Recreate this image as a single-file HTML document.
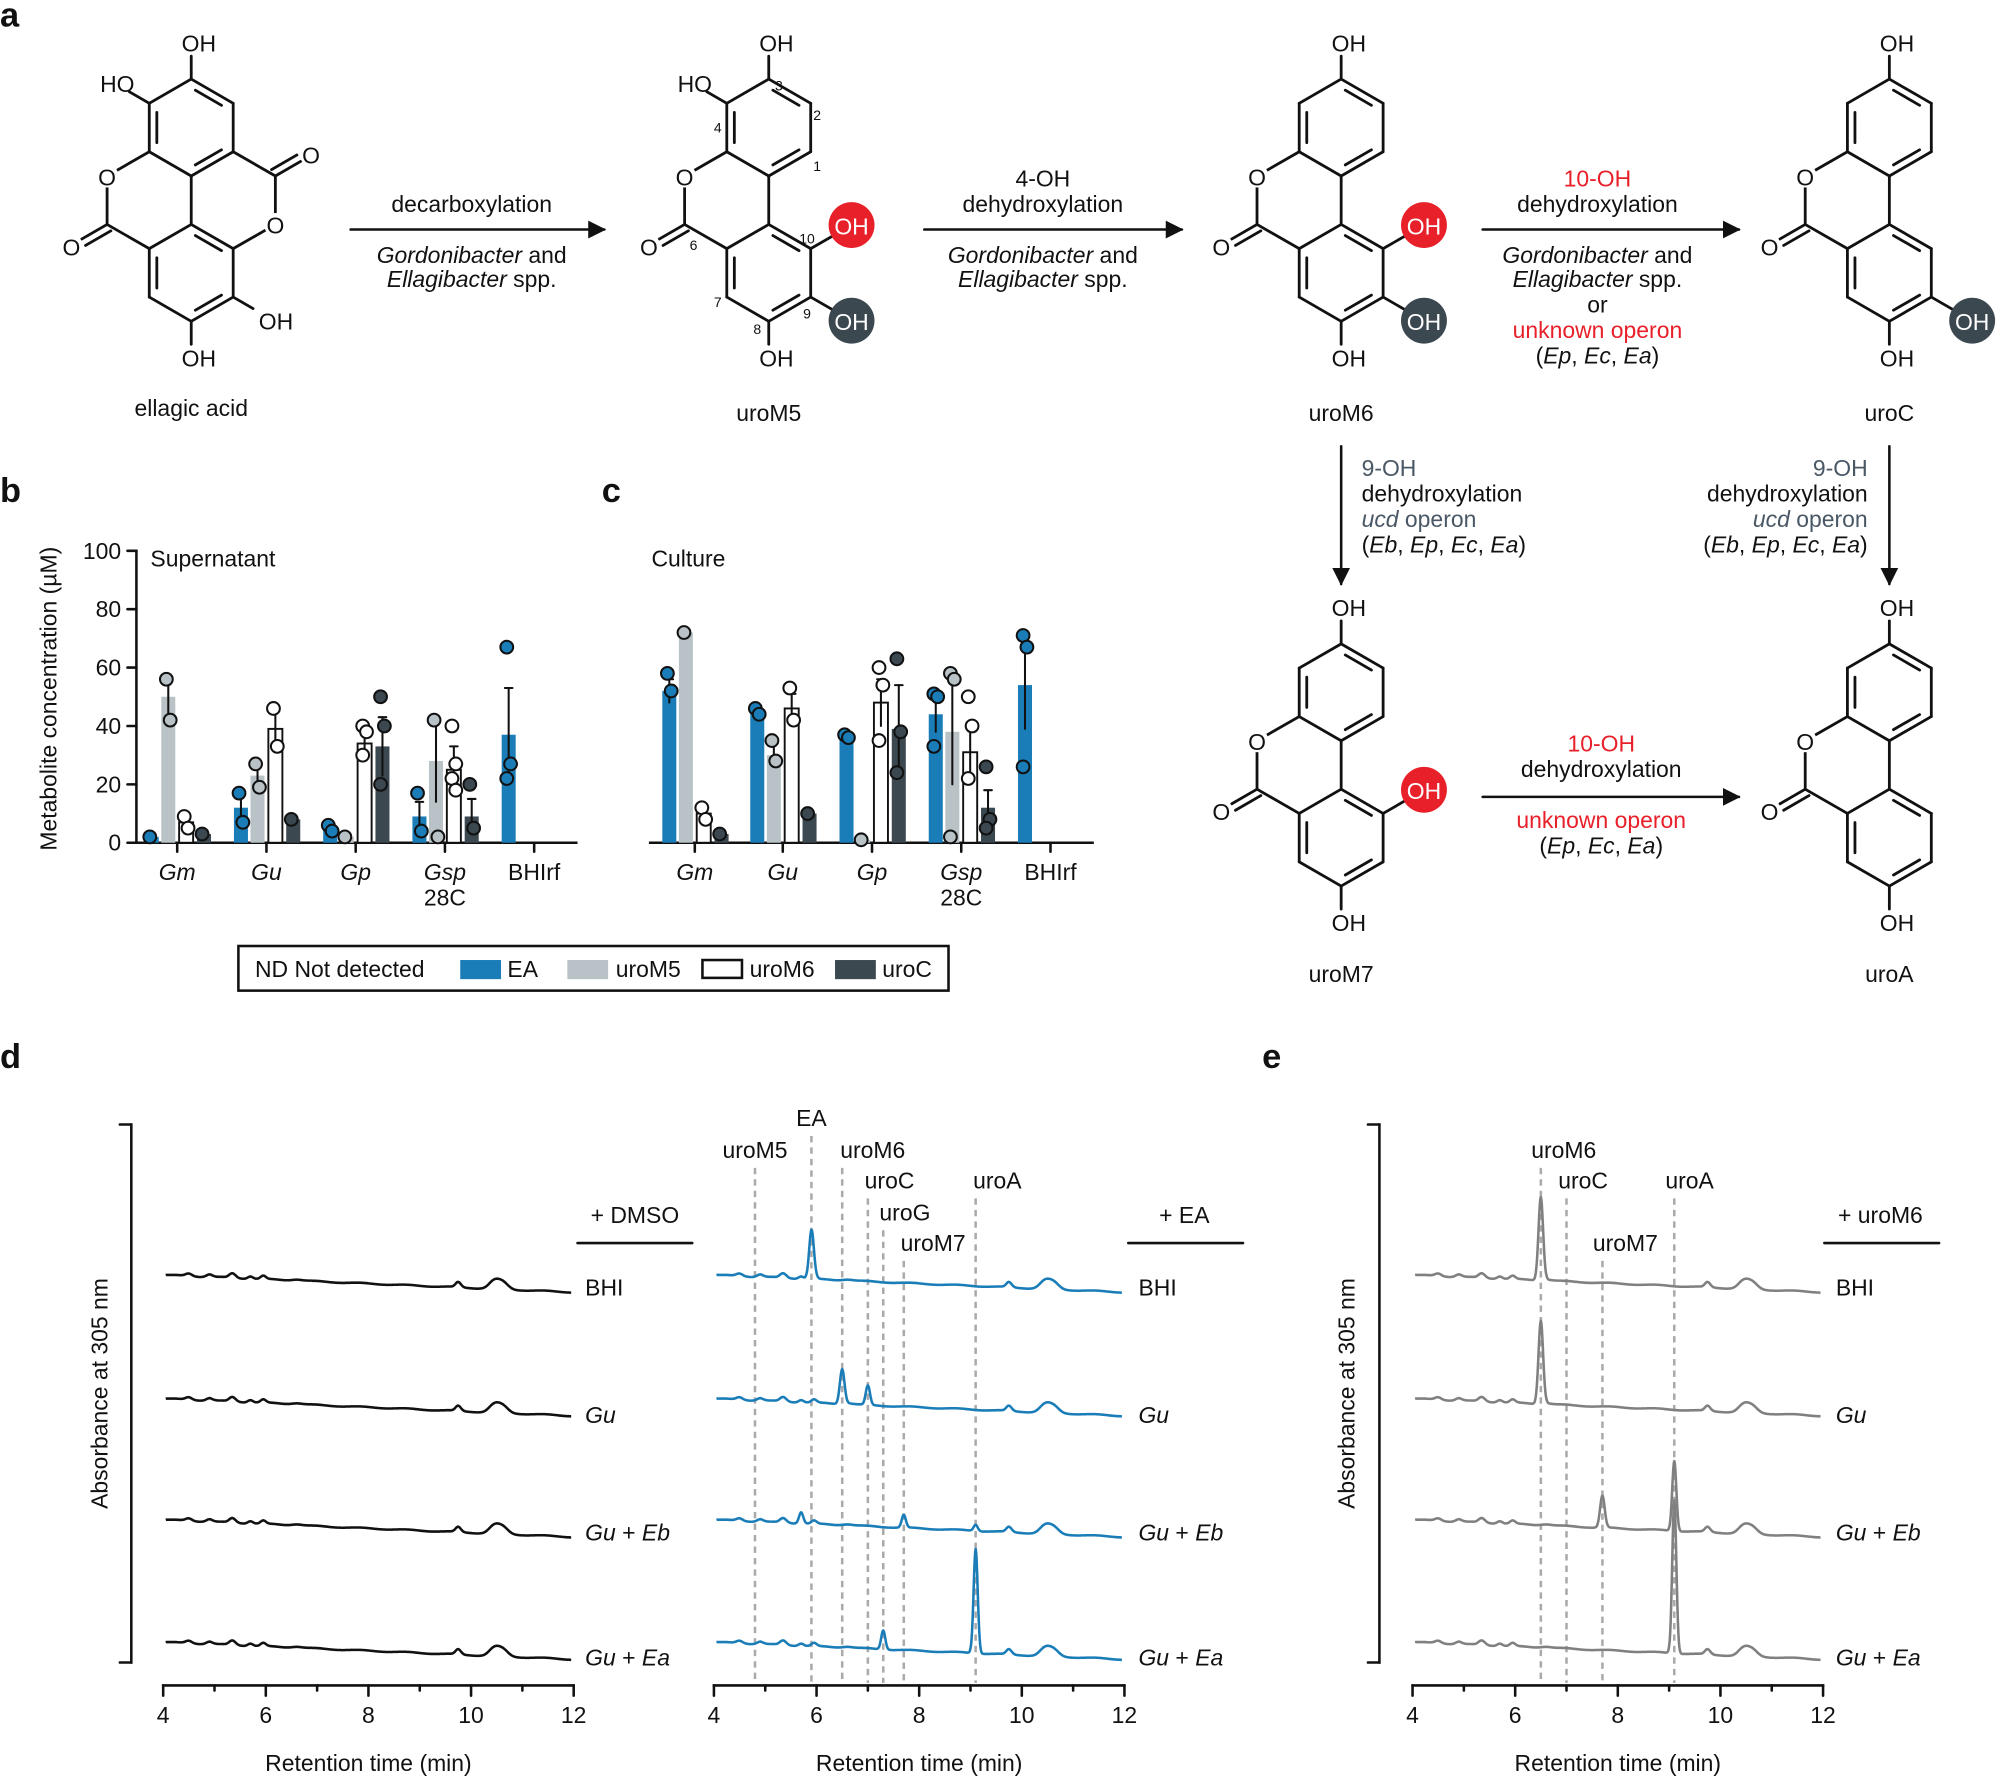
<!DOCTYPE html>
<html><head><meta charset="utf-8">
<style>
html,body{margin:0;padding:0;background:#fff;}
svg{display:block;font-family:"Liberation Sans",Arial,sans-serif;}
</style></head>
<body>
<svg id="s" width="1999" height="1776" viewBox="0 0 1568 1393" xmlns="http://www.w3.org/2000/svg">
<defs>
<marker id="ah" viewBox="0 0 10 10" refX="9" refY="5" markerWidth="7" markerHeight="7" orient="auto"><path d="M0,0 L10,5 L0,10 z" fill="#111"/></marker>
</defs>
<g id="g"></g>
</svg>
<script>
const NS="http://www.w3.org/2000/svg";
const G=document.getElementById('g');
function el(tag,attrs,text){const e=document.createElementNS(NS,tag);for(const k in attrs)e.setAttribute(k,attrs[k]);if(text!==undefined)e.textContent=text;G.appendChild(e);return e;}
function line(x1,y1,x2,y2,w,c,extra){return el('line',Object.assign({x1,y1,x2,y2,stroke:c||'#111','stroke-width':w||2,'stroke-linecap':'round'},extra||{}));}
function txt(x,y,s,o){o=o||{};const a={x,y,'text-anchor':o.anchor||'middle','dominant-baseline':'central'};
 a.style='font-size:'+(o.size||18)+'px;fill:'+(o.fill||'#111')+';'+(o.italic?'font-style:italic;':'')+(o.bold?'font-weight:bold;':'');
 if(o.tr)a.transform=o.tr;
 const e=el('text',a); if(Array.isArray(s)){s.forEach(p=>{const ts=document.createElementNS(NS,'tspan');let st='';if(p.i)st+='font-style:italic;';if(p.f)st+='fill:'+p.f+';';if(st)ts.setAttribute('style',st);ts.textContent=p.t;e.appendChild(ts);});}else e.textContent=s; return e;}
function atomO(x,y){el('circle',{cx:x,cy:y,r:9,fill:'#fff'});txt(x,y+1,'O');}
const R=38;
function hexv(cx,cy){const v=[];for(let i=0;i<6;i++){const a=(-90+60*i)*Math.PI/180;v.push([cx+R*Math.cos(a),cy+R*Math.sin(a)]);}return v;}
function ring(cx,cy){const v=hexv(cx,cy);for(let i=0;i<6;i++){const p=v[i],q=v[(i+1)%6];line(p[0],p[1],q[0],q[1],2.2);}
 [[0,1],[2,3],[4,5]].forEach(([i,j])=>{const p=v[i],q=v[j];const f=0.82;
  const pi=[cx+(p[0]-cx)*f,cy+(p[1]-cy)*f],qi=[cx+(q[0]-cx)*f,cy+(q[1]-cy)*f];
  const sx=pi[0]+(qi[0]-pi[0])*0.12,sy=pi[1]+(qi[1]-pi[1])*0.12,ex=pi[0]+(qi[0]-pi[0])*0.88,ey=pi[1]+(qi[1]-pi[1])*0.88;line(sx,sy,ex,ey,2.2);});
 return v;}
function sub(cx,cy,v,i,kind){const a=(-90+60*i)*Math.PI/180;const d=[Math.cos(a),Math.sin(a)];const p=v[i];
 if(kind==='red'||kind==='dark'){const c=[p[0]+d[0]*37,p[1]+d[1]*37];line(p[0],p[1],c[0]-d[0]*17,c[1]-d[1]*17,2.2);
  el('circle',{cx:c[0],cy:c[1],r:18,fill:kind==='red'?'#e8202a':'#3b4850'});txt(c[0],c[1]+1,'OH',{fill:'#fff'});}
 else{const e=[p[0]+d[0]*18,p[1]+d[1]*18];line(p[0],p[1],e[0],e[1],2.2);
  if(kind==='HO')txt(e[0]+4,e[1]-6,'HO',{anchor:'end'});
  else if(i===0)txt(p[0]+6,e[1]-10,'OH');
  else if(i===3)txt(p[0]+6,e[1]+11,'OH');
  else txt(e[0]+18*Math.sign(d[0]),e[1]+10,'OH');}}
function scaffold(cx,cy,subs,ellagic){const A=ring(cx,cy-57),B=ring(cx,cy+57);
 line(cx,cy-19,cx,cy+19,2.2);
 const O=[cx-66,cy-19],C=[cx-66,cy+19];
 line(A[4][0],A[4][1],O[0],O[1],2.2);line(O[0],O[1],C[0],C[1],2.2);line(C[0],C[1],B[5][0],B[5][1],2.2);
 const od=[-0.866,0.5];const Oc=[C[0]+od[0]*30,C[1]+od[1]*30];
 line(C[0],C[1],Oc[0]-od[0]*7,Oc[1]-od[1]*7,2.2);line(C[0]+3,C[1]+5,Oc[0]-od[0]*7+3,Oc[1]-od[1]*7+5,2.2);
 atomO(O[0],O[1]);atomO(Oc[0]-2,Oc[1]+2);
 if(ellagic){const O2=[cx+66,cy+19],C2=[cx+66,cy-19];
  line(A[2][0],A[2][1],C2[0],C2[1],2.2);line(C2[0],C2[1],O2[0],O2[1],2.2);line(O2[0],O2[1],B[1][0],B[1][1],2.2);
  const d2=[0.866,-0.5];const Oc2=[C2[0]+d2[0]*30,C2[1]+d2[1]*30];
  line(C2[0],C2[1],Oc2[0]-d2[0]*7,Oc2[1]-d2[1]*7,2.2);line(C2[0]-3,C2[1]-5,Oc2[0]-d2[0]*7-3,Oc2[1]-d2[1]*7-5,2.2);
  atomO(O2[0],O2[1]);atomO(Oc2[0]+2,Oc2[1]-2);}
 subs.forEach(s=>{const v=s[0]==='A'?A:B;const c=s[0]==='A'?[cx,cy-57]:[cx,cy+57];sub(c[0],c[1],v,s[1],s[2]);});}
const cyT=157,cyB=600;
scaffold(150,cyT,[['A',0,'OH'],['A',5,'HO'],['B',2,'OH'],['B',3,'OH']],true);
scaffold(603,cyT,[['A',0,'OH'],['A',5,'HO'],['B',1,'red'],['B',2,'dark'],['B',3,'OH']]);
scaffold(1052,cyT,[['A',0,'OH'],['B',1,'red'],['B',2,'dark'],['B',3,'OH']]);
scaffold(1482,cyT,[['A',0,'OH'],['B',2,'dark'],['B',3,'OH']]);
scaffold(1052,cyB,[['A',0,'OH'],['B',1,'red'],['B',3,'OH']]);
scaffold(1482,cyB,[['A',0,'OH'],['B',3,'OH']]);
[[611,67,'3'],[641,90,'2'],[641,130,'1'],[563,100,'4'],[544,192,'6'],[633,187,'10'],[633,246,'9'],[594,258,'8'],[563,237,'7']].forEach(n=>txt(n[0],n[1],n[2],{size:11}));
txt(150,320,'ellagic acid');txt(603,324,'uroM5');txt(1052,324,'uroM6');txt(1482,324,'uroC');txt(1052,764,'uroM7');txt(1482,764,'uroA');
[[0,12,'a'],[0,385,'b'],[472,385,'c'],[0,829,'d'],[990,829,'e']].forEach(p=>txt(p[0],p[1],p[2],{anchor:'start',size:27,bold:1}));
function arrow(x1,y1,x2,y2){line(x1,y1,x2,y2,2,'#111',{'marker-end':'url(#ah)'});}
arrow(275,180,474,180);arrow(725,180,927,180);arrow(1163,180,1364,180);
arrow(1052,350,1052,458);arrow(1482,350,1482,458);arrow(1163,625,1364,625);
const RED='#e8202a',SL='#4a5866';
txt(370,160,'decarboxylation');txt(370,200,[{t:'Gordonibacter',i:1},{t:' and'}]);txt(370,219,[{t:'Ellagibacter',i:1},{t:' spp.'}]);
txt(818,140,'4-OH');txt(818,160,'dehydroxylation');txt(818,200,[{t:'Gordonibacter',i:1},{t:' and'}]);txt(818,219,[{t:'Ellagibacter',i:1},{t:' spp.'}]);
txt(1253,140,'10-OH',{fill:RED});txt(1253,160,'dehydroxylation');txt(1253,200,[{t:'Gordonibacter',i:1},{t:' and'}]);txt(1253,219,[{t:'Ellagibacter',i:1},{t:' spp.'}]);
txt(1253,239,'or');txt(1253,259,'unknown operon',{fill:RED});txt(1253,279,[{t:'('},{t:'Ep',i:1},{t:', '},{t:'Ec',i:1},{t:', '},{t:'Ea',i:1},{t:')'}]);
const EBl=[{t:'('},{t:'Eb',i:1},{t:', '},{t:'Ep',i:1},{t:', '},{t:'Ec',i:1},{t:', '},{t:'Ea',i:1},{t:')'}];
txt(1068,367,'9-OH',{anchor:'start',fill:SL});txt(1068,387,'dehydroxylation',{anchor:'start'});txt(1068,407,[{t:'ucd',i:1},{t:' operon'}],{anchor:'start',fill:SL});txt(1068,427,EBl,{anchor:'start'});
txt(1465,367,'9-OH',{anchor:'end',fill:SL});txt(1465,387,'dehydroxylation',{anchor:'end'});txt(1465,407,[{t:'ucd',i:1},{t:' operon'}],{anchor:'end',fill:SL});txt(1465,427,EBl,{anchor:'end'});
txt(1256,583,'10-OH',{fill:RED});txt(1256,603,'dehydroxylation');txt(1256,643,'unknown operon',{fill:RED});txt(1256,663,[{t:'('},{t:'Ep',i:1},{t:', '},{t:'Ec',i:1},{t:', '},{t:'Ea',i:1},{t:')'}]);
const COL=['#1a7db8','#b9c3c7','#ffffff','#3b4850'];
function yv(v){return 661-v*2.29;}
line(107,432,107,661,2,'#111',{'stroke-linecap':'square'});
[0,20,40,60,80,100].forEach(v=>{line(100,yv(v),107,yv(v),2);txt(95,yv(v),String(v),{anchor:'end'});});
txt(38,548,'Metabolite concentration (µM)',{tr:'rotate(-90 38 548)'});
txt(118,438,'Supernatant',{anchor:'start'});txt(511,438,'Culture',{anchor:'start'});
function panel(x0,x1,centers,data){line(x0,661,x1,661,2,'#111',{'stroke-linecap':'square'});
 const names=[[{t:'Gm',i:1}],[{t:'Gu',i:1}],[{t:'Gp',i:1}],[{t:'Gsp',i:1}],'BHIrf'];
 centers.forEach((c,k)=>{line(c,661,c,668,2);txt(c,684,names[k]);if(k===3)txt(c,704,'28C');});
 data.forEach((grp,k)=>{grp.forEach((s,j)=>{if(!s)return;const x=centers[k]+[-20,-7,7,21][j];const [v,e,dots]=s;
  if(v>0)el('rect',{x:x-5.5,y:yv(v),width:11,height:661-yv(v),fill:COL[j],stroke:j===2?'#111':'none','stroke-width':1.5});
  if(e){line(x,yv(Math.max(0,v-e)),x,yv(v+e),1.6);line(x-3,yv(v+e),x+3,yv(v+e),1.6);}
  dots.forEach((d,q)=>el('circle',{cx:x+(q%2?1.5:-1.5),cy:yv(d),r:5,fill:COL[j],stroke:'#111','stroke-width':1.6}));});});}
panel(107,452,[139,209,279,349,419],[
 [[2,0,[2]],[50,7,[56,42]],[7,2,[9,5]],[3,0,[3]]],
 [[12,5,[17,7]],[23,4,[27,19]],[39,6,[46,33]],[8,0,[8]]],
 [[5,1,[6,4]],[2,0,[2]],[34,5,[40,38,30]],[33,10,[50,40,20]]],
 [[9,5,[17,4]],[28,14,[42,2]],[25,8,[40,27,22,18]],[9,6,[20,5]]],
 [[37,16,[67,27,22]],null,null,null]]);
panel(510,857,[545,614,684,754,824],[
 [[52,4,[58,52]],[72,1,[72]],[10,2,[12,8]],[3,0,[3]]],
 [[45,1,[46,44]],[30,4,[35,28]],[46,5,[53,42]],[10,0,[10]]],
 [[36,1,[37,36]],[1,0,[1]],[48,8,[60,54,35]],[39,15,[63,38,24]]],
 [[44,6,[51,50,33]],[38,18,[58,56,2]],[31,10,[50,40,22]],[12,6,[26,8,5]]],
 [[54,15,[71,67,26]],null,null,null]]);
el('rect',{x:187,y:742,width:557,height:35,fill:'none',stroke:'#111','stroke-width':2});
txt(200,760,'ND  Not detected',{anchor:'start'});
el('rect',{x:361,y:753,width:32,height:15,fill:COL[0]});txt(398,760,'EA',{anchor:'start'});
el('rect',{x:445,y:753,width:32,height:15,fill:COL[1]});txt(483,760,'uroM5',{anchor:'start'});
el('rect',{x:551,y:753,width:31,height:14,fill:'#fff',stroke:'#111','stroke-width':2});txt(588,760,'uroM6',{anchor:'start'});
el('rect',{x:655,y:753,width:32,height:15,fill:COL[3]});txt(692,760,'uroC',{anchor:'start'});
const bumps=[[4.5,2,0.06],[4.9,2,0.06],[5.35,3.5,0.06],[5.7,2,0.05],[5.95,2.5,0.05],[6.6,1,0.1],[9.75,4,0.05],[10.45,6,0.1],[10.62,5,0.1]];
function trace(x0,x1,y0,peaks,col){const sc=(x1-x0)/8;let d='';
 for(let t=4.05;t<=11.95;t+=0.01){let y=y0+(t-4)*1.7+Math.sin(t*7)*0.4;
  bumps.concat(peaks).forEach(b=>{y-=b[1]*Math.exp(-((t-b[0])**2)/(2*b[2]*b[2]));});
  d+=(d?'L':'M')+(x0+(t-4)*sc).toFixed(1)+','+y.toFixed(1);}
 el('path',{d,fill:'none',stroke:col,'stroke-width':2,'stroke-linejoin':'round'});}
function axis(x0,x1){const sc=(x1-x0)/8;line(x0,1322,x1,1322,2,'#111',{'stroke-linecap':'square'});
 for(let t=4;t<=12;t++){const x=x0+(t-4)*sc;line(x,1322,x,1322+(t%2?4:8),2);if(t%2===0)txt(x,1345,String(t));}
 txt((x0+x1)/2,1383,'Retention time (min)');}
function bracket(x,lx){line(x,882,x,1304,2,'#111',{'stroke-linecap':'square'});line(x,882,x-9,882,2);line(x,1304,x-9,1304,2);
 txt(lx,1093,'Absorbance at 305 nm',{tr:'rotate(-90 '+lx+' 1093)'});}
const rows=[1000,1097,1192,1288];
function labels(x,cond,cx,lx0,lx1){txt(cx,953,cond);line(lx0,975,lx1,975,2);
 txt(x,1010,'BHI',{anchor:'start'});txt(x,1110,[{t:'Gu',i:1}],{anchor:'start'});
 txt(x,1202,[{t:'Gu',i:1},{t:' + '},{t:'Eb',i:1}],{anchor:'start'});txt(x,1300,[{t:'Gu',i:1},{t:' + '},{t:'Ea',i:1}],{anchor:'start'});}
function dashes(x0,x1,list){const sc=(x1-x0)/8;list.forEach(l=>{const x=x0+(l[1]-4)*sc;
 line(x,l[3]+14,x,1320,2,'#aaa',{'stroke-dasharray':'5,4','stroke-linecap':'butt'});txt(x+l[2],l[3],l[0]);});}
bracket(103,78);axis(128,450);labels(459,'+ DMSO',498,453,543);
rows.forEach(y=>trace(128,450,y,[],'#111'));
axis(560,882);labels(893,'+ EA',929,885,975);
dashes(560,882,[['uroM5',4.8,0,902],['EA',5.9,0,877],['uroM6',6.5,24,902],['uroC',7.0,17,926],['uroG',7.3,17,951],['uroM7',7.7,23,975],['uroA',9.1,17,926]]);
const BL='#1a7db8';
trace(560,882,rows[0],[[5.9,37,0.045]],BL);
trace(560,882,rows[1],[[6.5,27,0.045],[7.0,15,0.04]],BL);
trace(560,882,rows[2],[[5.7,7,0.04],[7.7,10,0.04],[9.1,5,0.04]],BL);
trace(560,882,rows[3],[[7.3,15,0.04],[9.1,82,0.04]],BL);
bracket(1082,1056);axis(1108,1430);labels(1440,'+ uroM6',1475,1431,1521);
dashes(1108,1430,[['uroM6',6.5,18,902],['uroC',7.0,13,926],['uroM7',7.7,18,975],['uroA',9.1,12,926]]);
const GR='#808080';
trace(1108,1430,rows[0],[[6.5,65,0.045]],GR);
trace(1108,1430,rows[1],[[6.5,65,0.045]],GR);
trace(1108,1430,rows[2],[[7.7,25,0.045],[9.1,55,0.04]],GR);
trace(1108,1430,rows[3],[[9.1,120,0.04]],GR);
</script>
</body></html>
